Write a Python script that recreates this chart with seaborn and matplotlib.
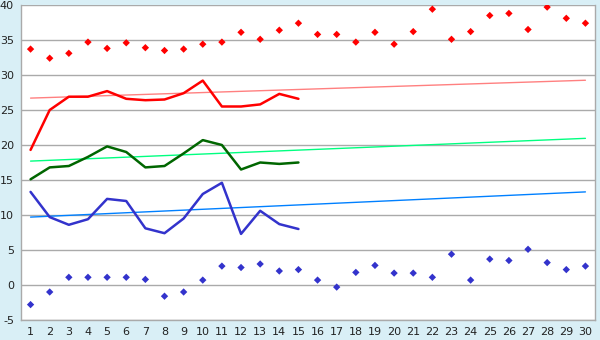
import matplotlib
matplotlib.use("Agg")
import matplotlib.pyplot as plt
import seaborn as sns
import pandas as pd
import numpy as np

days = list(range(1, 31))
max_points = [33.7, 32.4, 33.1, 34.7, 33.8, 34.6, 33.9, 33.5, 33.7, 34.4,
              34.7, 36.1, 35.1, 36.4, 37.4, 35.8, 35.8, 34.7, 36.1, 34.4,
              36.2, 39.4, 35.1, 36.2, 38.5, 38.8, 36.5, 39.7, 38.1, 37.4]
min_points = [-2.8, -1.0, 1.1, 1.1, 1.1, 1.1, 0.8, -1.6, -1.0, 0.7,
              2.7, 2.5, 3.0, 2.0, 2.2, 0.7, -0.3, 1.8, 2.8, 1.7,
              1.7, 1.1, 4.4, 0.7, 3.7, 3.5, 5.1, 3.2, 2.2, 2.7]
line_days = list(range(1, 16))
max_line = [19.3, 25.0, 26.9, 26.9, 27.7, 26.6, 26.4, 26.5, 27.4, 29.2, 25.5, 25.5, 25.8, 27.3, 26.6]
mean_line = [15.1, 16.8, 17.0, 18.3, 19.8, 19.0, 16.8, 17.0, 18.8, 20.7, 20.0, 16.5, 17.5, 17.3, 17.5]
min_line = [13.3, 9.7, 8.6, 9.4, 12.3, 12.0, 8.1, 7.4, 9.5, 13.0, 14.6, 7.3, 10.6, 8.7, 8.0]
trend_days = [1, 30]
max_trend = [26.7, 29.25]
mean_trend = [17.7, 20.95]
min_trend = [9.7, 13.3]
y_ticks = [-5, 0, 5, 10, 15, 20, 25, 30, 35, 40]

sns.set_style("white")
plt.rcParams['font.family'] = ['DejaVu Sans']

bg = "#d9eff6"
fig = plt.figure(figsize=(6, 3.4), dpi=100, facecolor=bg)
ax = fig.add_axes([21/600, 20/340, 574/600, 315/340])
ax.set_facecolor("white")

grid_c = "#aaaaaa"
for t in y_ticks:
    ax.axhline(t, color=grid_c, lw=1.0, zorder=0)

trend_df = pd.DataFrame({"day": trend_days * 3,
                         "val": max_trend + mean_trend + min_trend,
                         "s": ["max"] * 2 + ["mean"] * 2 + ["min"] * 2})
sns.lineplot(data=trend_df, x="day", y="val", hue="s",
             palette={"max": "#ff8080", "mean": "#00ff80", "min": "#0080ff"},
             lw=1.0, legend=False, ax=ax, zorder=2)

line_df = pd.DataFrame({"day": line_days * 3,
                        "val": max_line + mean_line + min_line,
                        "s": ["max"] * 15 + ["mean"] * 15 + ["min"] * 15})
sns.lineplot(data=line_df, x="day", y="val", hue="s",
             palette={"max": "#ff0000", "mean": "#006600", "min": "#3333cc"},
             lw=1.8, legend=False, ax=ax, zorder=3)

pts_df = pd.DataFrame({"day": days * 2, "val": max_points + min_points,
                       "s": ["max"] * 30 + ["min"] * 30})
sns.scatterplot(data=pts_df, x="day", y="val", hue="s",
                palette={"max": "#ff0000", "min": "#3333cc"},
                marker="D", s=14, linewidth=0, legend=False, ax=ax, zorder=4)

ax.set_xlim(0.5, 30.5)
ax.set_ylim(-5, 40)
ax.set_xticks(days)
ax.set_xticklabels([str(d) for d in days])
ax.set_yticks(y_ticks)
ax.set_yticklabels([str(t) for t in y_ticks])
ax.set_xlabel("")
ax.set_ylabel("")
ax.tick_params(axis="both", labelsize=8, colors="#222222", length=3, width=1,
               direction="out", pad=2)
ax.tick_params(axis="y", color=grid_c)
ax.tick_params(axis="x", color="#333333")
for side in ["left", "right", "bottom", "top"]:
    ax.spines[side].set_color(grid_c)
    ax.spines[side].set_linewidth(1.0)
ax.spines["top"].set_visible(False)

fig.savefig("out.png", dpi=100, facecolor=bg)
